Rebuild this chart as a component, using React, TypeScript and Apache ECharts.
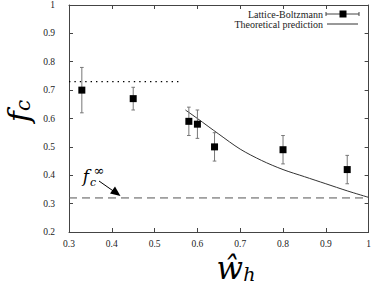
import React, { useEffect, useRef } from "react";
import * as echarts from "echarts";

// Lattice-Boltzmann measurements
const lbX = [0.33, 0.45, 0.58, 0.60, 0.64, 0.80, 0.95];
const lbY = [0.70, 0.67, 0.59, 0.58, 0.50, 0.49, 0.42];
const lbLow = [0.62, 0.63, 0.54, 0.53, 0.45, 0.44, 0.37];
const lbHigh = [0.78, 0.71, 0.64, 0.63, 0.55, 0.54, 0.47];

// Theoretical prediction
const theoX = [0.572, 0.6, 0.65, 0.7, 0.75, 0.8, 0.85, 0.9, 0.95, 1.0];
const theoY = [0.63, 0.60, 0.545, 0.492, 0.452, 0.42, 0.395, 0.37, 0.345, 0.322];

// Reference lines
const dottedY = 0.73;
const dottedX = [0.3, 0.565];
const dashedY = 0.32;
const dashedX = [0.3, 1.0];

const xTicks = { min: 0.3, max: 1, interval: 0.1 };
const yTicks = { min: 0.2, max: 1, interval: 0.1 };

const FONT = "Liberation Serif";
const MATH = "DejaVu Serif";

const fmt = (v: number) => (Math.abs(v - 1) < 1e-9 ? "1" : v.toFixed(1));

export default function App() {
  const ref = useRef<HTMLDivElement>(null);
  useEffect(() => {
    if (!ref.current) return;
    const chart = echarts.init(ref.current, null, { renderer: "svg" });
    const axisCommon = {
      type: "value" as const,
      axisLine: { show: true, onZero: false, lineStyle: { color: "#444", width: 1 } },
      axisTick: { show: true, inside: true, length: 4, lineStyle: { color: "#444" } },
      splitLine: { show: false },
    };
    const errData = lbX.map((x, i) => [x, lbY[i], lbLow[i], lbHigh[i]]);
    chart.setOption({
      animation: false,
      backgroundColor: "#fff",
      grid: { left: 69, top: 5, right: 5, bottom: 54, containLabel: false },
      xAxis: [
        {
          ...axisCommon,
          ...xTicks,
          position: "bottom",
          axisLabel: { formatter: fmt, fontFamily: FONT, fontSize: 9.5, color: "#222", margin: 7 },
        },
        {
          ...axisCommon,
          ...xTicks,
          position: "top",
          axisLabel: { show: false },
        },
      ],
      yAxis: [
        {
          ...axisCommon,
          ...yTicks,
          position: "left",
          axisLabel: { formatter: fmt, fontFamily: FONT, fontSize: 9.5, color: "#222", margin: 14 },
        },
        {
          ...axisCommon,
          ...yTicks,
          position: "right",
          axisLabel: { show: false },
        },
      ],
      series: [
        {
          type: "line",
          data: dashedX.map((x) => [x, dashedY]),
          showSymbol: false,
          lineStyle: { color: "#555", width: 1, type: [8, 5] },
          z: 1,
        },
        {
          type: "line",
          data: dottedX.map((x) => [x, dottedY]),
          showSymbol: false,
          lineStyle: { color: "#000", width: 1.4, type: [1.4, 4], cap: "butt" },
          z: 1,
        },
        {
          type: "line",
          data: theoX.map((x, i) => [x, theoY[i]]),
          showSymbol: false,
          smooth: 0.3,
          lineStyle: { color: "#333", width: 1 },
          z: 2,
        },
        {
          type: "custom",
          data: errData,
          z: 3,
          renderItem: (params: any, api: any) => {
            const x = api.value(0);
            const lo = api.coord([x, api.value(2)]);
            const hi = api.coord([x, api.value(3)]);
            const w = 1.8;
            const st = { stroke: "#777", lineWidth: 1 };
            return {
              type: "group",
              children: [
                { type: "line", shape: { x1: lo[0], y1: lo[1], x2: hi[0], y2: hi[1] }, style: st },
                { type: "line", shape: { x1: lo[0] - w, y1: lo[1], x2: lo[0] + w, y2: lo[1] }, style: st },
                { type: "line", shape: { x1: hi[0] - w, y1: hi[1], x2: hi[0] + w, y2: hi[1] }, style: st },
              ],
            };
          },
        },
        {
          type: "scatter",
          data: lbX.map((x, i) => [x, lbY[i]]),
          symbol: "rect",
          symbolSize: 7,
          itemStyle: { color: "#000", opacity: 1 },
          z: 4,
        },
      ],
      graphic: [
        // legend
        {
          type: "text",
          x: 323,
          y: 14,
          style: { text: "Lattice-Boltzmann", fontFamily: FONT, fontSize: 10, fill: "#222", align: "right", verticalAlign: "middle" },
        },
        { type: "line", shape: { x1: 326, y1: 14, x2: 359, y2: 14 }, style: { stroke: "#444", lineWidth: 1 } },
        { type: "line", shape: { x1: 326, y1: 12, x2: 326, y2: 16 }, style: { stroke: "#444", lineWidth: 1 } },
        { type: "line", shape: { x1: 359, y1: 12, x2: 359, y2: 16 }, style: { stroke: "#444", lineWidth: 1 } },
        { type: "rect", shape: { x: 339.5, y: 10.5, width: 7, height: 7 }, style: { fill: "#000" } },
        {
          type: "text",
          x: 323,
          y: 24,
          style: { text: "Theoretical prediction", fontFamily: FONT, fontSize: 10, fill: "#222", align: "right", verticalAlign: "middle" },
        },
        { type: "line", shape: { x1: 327, y1: 24, x2: 358, y2: 24 }, style: { stroke: "#333", lineWidth: 1 } },
        // y axis title f_c (rotated)
        {
          type: "text",
          x: 18,
          y: 111,
          rotation: Math.PI / 2,
          style: {
            text: "{f|f}{c|c}",
            align: "center",
            verticalAlign: "middle",
            rich: {
              f: { fontFamily: MATH, fontStyle: "italic", fontSize: 30, fill: "#000" },
              c: { fontFamily: MATH, fontStyle: "italic", fontSize: 20, fill: "#000", verticalAlign: "bottom", padding: [10, 0, 0, 0] },
            },
          },
        },
        // x axis title w-hat_h
        {
          type: "text",
          x: 236,
          y: 268,
          style: {
            text: "{w|ŵ}{h|h}",
            align: "center",
            verticalAlign: "middle",
            rich: {
              w: { fontFamily: MATH, fontStyle: "italic", fontSize: 31, fill: "#000" },
              h: { fontFamily: MATH, fontStyle: "italic", fontSize: 19, fill: "#000", padding: [12, 0, 0, 0] },
            },
          },
        },
        // annotation f_c^inf
        { type: "text", x: 86, y: 176, style: { text: "f", fontFamily: MATH, fontStyle: "italic", fontSize: 17, fill: "#000", align: "center", verticalAlign: "middle" } },
        { type: "text", x: 99, y: 170, style: { text: "∞", fontFamily: MATH, fontSize: 13, fill: "#000", align: "center", verticalAlign: "middle" } },
        { type: "text", x: 93, y: 182, style: { text: "c", fontFamily: MATH, fontStyle: "italic", fontSize: 11, fill: "#000", align: "center", verticalAlign: "middle" } },
        { type: "line", shape: { x1: 99, y1: 181, x2: 114, y2: 191.5 }, style: { stroke: "#000", lineWidth: 1 } },
        { type: "polygon", shape: { points: [[120.5, 196], [110, 193.5], [115, 186.5]] }, style: { fill: "#000" } },
      ],
    });
    return () => chart.dispose();
  }, []);
  return (
    <div
      ref={ref}
      style={{ position: "fixed", left: 0, top: 0, width: 374, height: 286, background: "#fff" }}
    />
  );
}
